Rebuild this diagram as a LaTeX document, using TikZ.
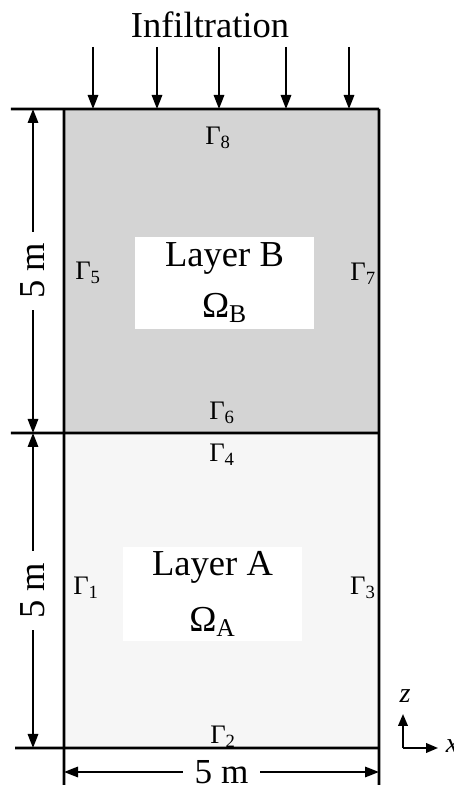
\documentclass[tikz,border=0pt]{standalone}
\usepackage{fontspec}
\setmainfont{Liberation Serif}
\usetikzlibrary{arrows.meta}
\pgfdeclarelayer{nodelayer}
\pgfdeclarelayer{edgelayer}
\pgfsetlayers{nodelayer, edgelayer, main}
\definecolor{fillB}{RGB}{212,212,212}
\definecolor{fillA}{RGB}{246,246,246}
\tikzset{
  wall/.style={line width=2pt},
  layerbox/.style={inner sep=0pt, outer sep=0pt, minimum width=7.875cm},
  labelbox/.style={fill=white, align=center, minimum width=4.475cm, minimum height=2.3cm, font=\fontsize{26}{36}\selectfont},
  bnd/.style={font=\fontsize{19}{22}\selectfont},
  dim/.style={line width=1.4pt, {Triangle[length=3.5mm,width=2.6mm]}-{Triangle[length=3.5mm,width=2.6mm]}},
  dimtext/.style={fill=white, inner xsep=8pt, inner ysep=1pt, font=\fontsize{26}{30}\selectfont},
  rain/.style={line width=1.4pt, -{Triangle[length=3.5mm,width=2.6mm]}},
  axis/.style={line width=1.4pt, -{Triangle[length=3mm,width=2.4mm]}}
}

\begin{document}
\begin{tikzpicture}[scale=1]
    \useasboundingbox (0,0) rectangle (11.35,19.75);
	\begin{pgfonlayer}{nodelayer}
        \node[layerbox, fill=fillB, minimum height=8.1cm] (B) at (5.5375,12.975) {};
        \node[layerbox, fill=fillA, minimum height=7.875cm] (A) at (5.5375,4.9875) {};
        \node[labelbox] (boxB) at (5.6125,12.675) {Layer B\\Ω\textsubscript{B}};
        \node[labelbox] (boxA) at (5.3125,4.9) {Layer A\\[4pt]Ω\textsubscript{A}};
	\end{pgfonlayer}
	\begin{pgfonlayer}{edgelayer}
        % outline of the two layers
        \coordinate (tl) at (0.275,17.025);
        \coordinate (ml) at (0.275,8.925);
        \coordinate (bl) at (0.375,1.05);
        \coordinate (lfoot) at (1.6,0.125);
        \coordinate (rfoot) at (9.475,0.125);
        \draw[wall] (tl) -- (B.north east);
        \draw[wall] (ml) -- (B.south east);
        \draw[wall] (bl) -- (A.south east);
        \draw[wall] (B.north west) -- (lfoot);
        \draw[wall] (B.north east) -- (rfoot);
	\end{pgfonlayer}
    % boundaries
    \node[bnd] (g8) at (5.45,16.3) {Γ\textsubscript{8}};
    \node[bnd] (g6) at (5.55,9.425) {Γ\textsubscript{6}};
    \node[bnd] (g4) at (5.55,8.375) {Γ\textsubscript{4}};
    \node[bnd] (g2) at (5.575,1.325) {Γ\textsubscript{2}};
    \node[bnd] (g5) at (2.2,12.925) {Γ\textsubscript{5}};
    \node[bnd] (g7) at (9.08,12.9) {Γ\textsubscript{7}};
    \node[bnd] (g1) at (2.15,5.05) {Γ\textsubscript{1}};
    \node[bnd] (g3) at (9.07,5.05) {Γ\textsubscript{3}};
    % infiltration
    \node[font=\fontsize{26}{30}\selectfont] (infil) at (5.25,19.125) {Infiltration};
    \foreach \x [count=\i] in {2.325,3.925,5.475,7.15,8.725} {
        \coordinate (r\i) at (\x,18.575);
        \coordinate (s\i) at (\x,17.025);
        \draw[rain] (r\i) -- (s\i);
    }
    % dimensions
    \coordinate (dT) at (0.825,17.025);
    \coordinate (dM) at (0.825,8.925);
    \coordinate (dB) at (0.825,1.05);
    \draw[dim] (dM) -- node[dimtext, rotate=90] {5 m} (dT);
    \draw[dim] (dB) -- node[dimtext, rotate=90] {5 m} (dM);
    \coordinate (hL) at (1.6,0.45);
    \coordinate (hR) at (9.475,0.45);
    \draw[dim] (hL) -- node[dimtext, inner ysep=0pt, font=\fontsize{25}{28}\selectfont] {5 m} (hR);
    % axes
    \coordinate (o) at (10.075,1.05);
    \coordinate (zend) at (10.075,1.9);
    \coordinate (xend) at (10.95,1.05);
    \draw[axis] (o) -- (zend);
    \draw[axis] (o) -- (xend);
    \node[font=\fontsize{20}{24}\selectfont\itshape] (zlab) at (10.125,2.35) {z};
    \node[font=\fontsize{20}{24}\selectfont\itshape] (xlab) at (11.3,1.1) {x};
    \end{tikzpicture}
\end{document}
